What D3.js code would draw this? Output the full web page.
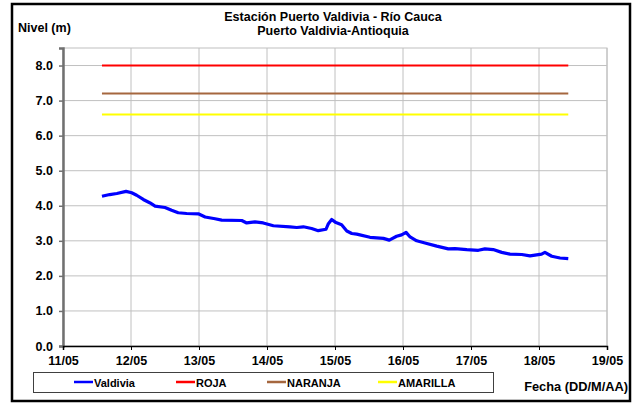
<!DOCTYPE html>
<style type="text/css">
  body { margin: 0; background: #fff; }
  svg text { font-family: "Liberation Sans", Arial, sans-serif; font-weight: bold; fill: #000; }
  .grid line { stroke: #c0c0c0; stroke-width: 1; }
</style>
<svg width="635" height="403"></svg>
<script src="https://d3js.org/d3.v7.min.js"></script>
<script>

// readings, station Puerto Valdivia
var times = ["11/05 13:45", "11/05 16:30", "11/05 19:00", "11/05 22:15", "12/05 00:15", "12/05 02:00",
  "12/05 04:20", "12/05 06:45", "12/05 08:30", "12/05 12:00", "12/05 14:20", "12/05 16:40",
  "12/05 19:40", "12/05 23:45", "13/05 02:10", "13/05 05:40", "13/05 08:00", "13/05 15:05",
  "13/05 16:50", "13/05 19:45", "13/05 22:40", "14/05 02:15", "14/05 08:05", "14/05 10:30",
  "14/05 12:50", "14/05 15:45", "14/05 18:05", "14/05 20:50", "14/05 21:40", "14/05 22:50",
  "15/05 00:20", "15/05 02:20", "15/05 04:10", "15/05 05:55", "15/05 07:40", "15/05 12:20",
  "15/05 17:05", "15/05 19:10", "15/05 21:45", "15/05 23:30", "16/05 01:05", "16/05 02:30",
  "16/05 04:50", "16/05 07:45", "16/05 11:55", "16/05 16:00", "16/05 18:20", "16/05 22:30",
  "17/05 02:35", "17/05 04:55", "17/05 07:50", "17/05 10:50", "17/05 13:45", "17/05 17:55",
  "17/05 20:50", "18/05 00:55", "18/05 02:05", "18/05 04:30", "18/05 07:25", "18/05 10:20"];
var valdivia = [4.27, 4.32, 4.35, 4.41, 4.37, 4.30,
  4.18, 4.08, 3.99, 3.95, 3.87, 3.80,
  3.78, 3.77, 3.68, 3.63, 3.59, 3.58,
  3.51, 3.54, 3.51, 3.43, 3.40, 3.38,
  3.40, 3.35, 3.29, 3.33, 3.49, 3.61,
  3.52, 3.46, 3.28, 3.21, 3.19, 3.10,
  3.07, 3.02, 3.13, 3.17, 3.24, 3.11,
  3.00, 2.94, 2.85, 2.77, 2.78, 2.75,
  2.73, 2.77, 2.75, 2.67, 2.62, 2.61,
  2.57, 2.62, 2.67, 2.56, 2.51, 2.49];

var roja = 8.0, naranja = 7.2, amarilla = 6.6;
var yTicks = [0, 1, 2, 3, 4, 5, 6, 7, 8];
var xStart = "11/05 00:00", xEnd = "19/05 00:00";

var parse = d3.timeParse("%d/%m %H:%M");

var svg = d3.select("svg"),
    margin = {top: 48, right: 28, bottom: 57, left: 63},
    width = +svg.attr("width") - margin.left - margin.right,
    height = +svg.attr("height") - margin.top - margin.bottom;

var data = times.map(function(t, i) { return {date: parse(t), v: valdivia[i]}; });

var x = d3.scaleTime().domain([parse(xStart), parse(xEnd)]).range([0, width]);
var y = d3.scaleLinear().domain([0, 8.5]).range([height, 0]);

var g = svg.append("g").attr("transform", "translate(" + margin.left + "," + margin.top + ")");

// plot frame
g.append("rect").attr("width", width).attr("height", height)
    .attr("fill", "#fff").attr("stroke", "#c0c0c0");

var days = d3.timeDay.range(parse(xStart), d3.timeDay.offset(parse(xEnd), 1));

g.append("g").attr("class", "grid")
  .selectAll("line").data(yTicks.slice(1)).enter().append("line")
    .attr("x1", 0).attr("x2", width)
    .attr("y1", function(d) { return y(d); }).attr("y2", function(d) { return y(d); });

g.append("g").attr("class", "grid")
  .selectAll("line").data(days.slice(1)).enter().append("line")
    .attr("y1", 0).attr("y2", height)
    .attr("x1", function(d) { return x(d); }).attr("x2", function(d) { return x(d); });

// thresholds
var first = data[0].date, last = data[data.length - 1].date;
[[roja, "#ff0000"], [naranja, "#a5673f"], [amarilla, "#ffff00"]].forEach(function(t) {
  g.append("line")
      .attr("x1", x(first)).attr("x2", x(last))
      .attr("y1", y(t[0])).attr("y2", y(t[0]))
      .attr("stroke", t[1]).attr("stroke-width", 2);
});

g.append("path")
    .datum(data)
    .attr("fill", "none")
    .attr("stroke", "#0000ff")
    .attr("stroke-width", 3.2)
    .attr("stroke-linejoin", "round")
    .attr("d", d3.line().x(function(d) { return x(d.date); }).y(function(d) { return y(d.v); }));

// axes
var yAxis = g.append("g")
    .call(d3.axisLeft(y).tickValues(yTicks).tickSize(4).tickPadding(6).tickFormat(d3.format(".1f")));
yAxis.select(".domain").attr("stroke", "#707070").attr("stroke-width", 2.5);
yAxis.selectAll(".tick line").attr("stroke", "#707070").attr("stroke-width", 1.5);
yAxis.selectAll("text").style("font-size", "12.5px");

var xAxis = g.append("g")
    .attr("transform", "translate(0," + height + ")")
    .call(d3.axisBottom(x).tickValues(days).tickSize(4).tickPadding(6).tickFormat(d3.timeFormat("%d/%m")));
xAxis.select(".domain").attr("stroke", "#000").attr("stroke-width", 1.5);
xAxis.selectAll("text").style("font-size", "12.5px");

// titles
svg.append("text").attr("x", 333).attr("y", 21).attr("text-anchor", "middle")
    .style("font-size", "12.5px").text("Estación Puerto Valdivia - Río Cauca");
svg.append("text").attr("x", 333).attr("y", 34.5).attr("text-anchor", "middle")
    .style("font-size", "12.5px").text("Puerto Valdivia-Antioquia");
svg.append("text").attr("x", 18).attr("y", 31.5)
    .style("font-size", "12.5px").text("Nivel (m)");
svg.append("text").attr("x", 628).attr("y", 391).attr("text-anchor", "end")
    .style("font-size", "12.8px").text("Fecha (DD/M/AA)");

// legend
var legend = svg.append("g");
legend.append("rect").attr("x", 33.5).attr("y", 372.5).attr("width", 460).attr("height", 20)
    .attr("fill", "#fff").attr("stroke", "#404040");
var items = [["Valdivia", "#0000ff", 74], ["ROJA", "#ff0000", 176], ["NARANJA", "#a5673f", 267], ["AMARILLA", "#ffff00", 378]];
items.forEach(function(it) {
  legend.append("line").attr("x1", it[2]).attr("x2", it[2] + 19)
      .attr("y1", 382).attr("y2", 382).attr("stroke", it[1]).attr("stroke-width", 2.5);
  legend.append("text").attr("x", it[2] + 20).attr("y", 386.5)
      .style("font-size", "11px").text(it[0]);
});

// outer border
svg.append("rect").attr("x", 12).attr("y", 4).attr("width", 618).attr("height", 397)
    .attr("fill", "none").attr("stroke", "#000").attr("stroke-width", 2.5);

</script>
